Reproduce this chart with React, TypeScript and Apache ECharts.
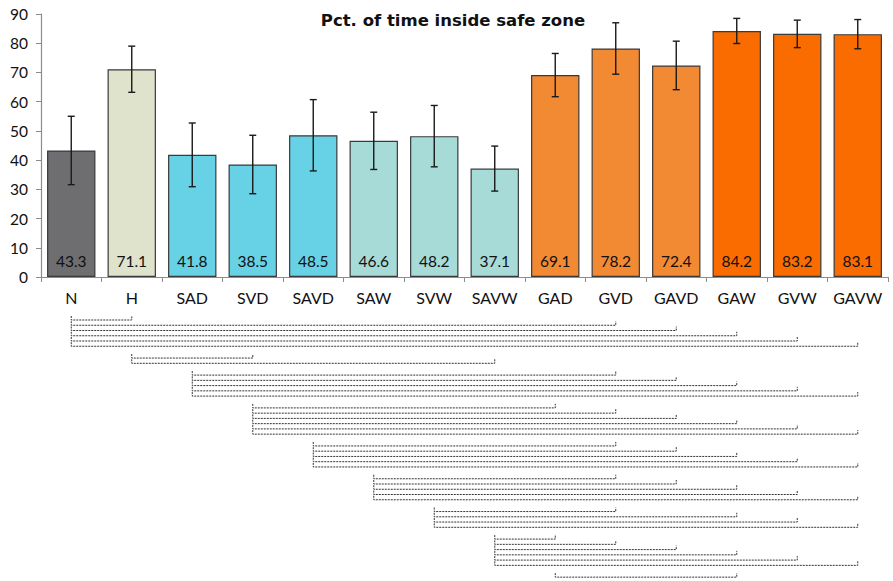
import React, { useEffect, useRef } from "react";
import * as echarts from "echarts";

// Conditions along the x axis
const categories = ["N", "H", "SAD", "SVD", "SAVD", "SAW", "SVW", "SAVW", "GAD", "GVD", "GAVD", "GAW", "GVW", "GAVW"];
// Mean percentage of time inside the safe zone
const means = [43.3, 71.1, 41.8, 38.5, 48.5, 46.6, 48.2, 37.1, 69.1, 78.2, 72.4, 84.2, 83.2, 83.1];
// Half-width of the error bar for each condition
const errors = [11.7, 7.9, 10.9, 10.0, 12.2, 9.8, 10.5, 7.7, 7.4, 8.8, 8.3, 4.3, 4.7, 5.0];
// Fill colour of each bar
const barColors = [
  "#6e6e70", "#dfe3cc",
  "#67d1e6", "#67d1e6", "#67d1e6",
  "#a7dbd8", "#a7dbd8", "#a7dbd8",
  "#f28933", "#f28933", "#f28933",
  "#fa6b00", "#fa6b00", "#fa6b00",
];
const yTicks = [0, 10, 20, 30, 40, 50, 60, 70, 80, 90];
const titleText = "Pct. of time inside safe zone";

// Pairwise comparisons shown as brackets below the axis
const comparisons: [string, string][] = [
  ["N", "H"], ["N", "GVD"], ["N", "GAVD"], ["N", "GAW"], ["N", "GVW"], ["N", "GAVW"],
  ["H", "SVD"], ["H", "SAVW"],
  ["SAD", "GVD"], ["SAD", "GAVD"], ["SAD", "GAW"], ["SAD", "GVW"], ["SAD", "GAVW"],
  ["SVD", "GAD"], ["SVD", "GVD"], ["SVD", "GAVD"], ["SVD", "GAW"], ["SVD", "GVW"], ["SVD", "GAVW"],
  ["SAVD", "GVD"], ["SAVD", "GAVD"], ["SAVD", "GAW"], ["SAVD", "GVW"], ["SAVD", "GAVW"],
  ["SAW", "GVD"], ["SAW", "GAVD"], ["SAW", "GAW"], ["SAW", "GVW"], ["SAW", "GAVW"],
  ["SVW", "GVD"], ["SVW", "GAW"], ["SVW", "GVW"], ["SVW", "GAVW"],
  ["SAVW", "GAD"], ["SAVW", "GVD"], ["SAVW", "GAVD"], ["SAVW", "GAW"], ["SAVW", "GVW"], ["SAVW", "GAVW"],
  ["GAD", "GAW"],
];

const FONT = "Lato, 'Open Sans', sans-serif";

export default function App() {
  const ref = useRef<HTMLDivElement>(null);

  useEffect(() => {
    if (!ref.current) return;
    const chart = echarts.init(ref.current, null, { renderer: "svg" });

    // vertical layout of bracket rows: rows of one starting condition stay together
    const BRACKET_TOP = 320;
    const ROW_STEP = 5.25;
    const GROUP_GAP = 11.8;
    const rowY: number[] = [];
    let y = BRACKET_TOP;
    comparisons.forEach((c, i) => {
      if (i > 0) y += c[0] === comparisons[i - 1][0] ? ROW_STEP : GROUP_GAP;
      rowY.push(y);
    });

    const bracketData = comparisons.map(([a, b]) => [categories.indexOf(a), categories.indexOf(b), 0]);
    const errorData = means.map((m, i) => [i, m - errors[i], m + errors[i]]);

    chart.setOption({
      animation: false,
      title: {
        text: titleText,
        left: 448,
        textAlign: "center",
        top: 7,
        textStyle: { fontFamily: "'DejaVu Sans', sans-serif", fontSize: 16.5, fontWeight: "bold", color: "#111" },
      },
      grid: { left: 41, right: 5, top: 14, bottom: 304, containLabel: false },
      xAxis: {
        type: "category",
        data: categories,
        axisLine: { lineStyle: { color: "#8c8c8c", width: 1.2 } },
        axisTick: { show: true, length: 5, lineStyle: { color: "#8c8c8c" } },
        axisLabel: { interval: 0, fontFamily: FONT, fontSize: 16, color: "#111", margin: 12 },
      },
      yAxis: {
        type: "value",
        min: 0,
        max: 90,
        interval: 10,
        axisLine: { show: true, lineStyle: { color: "#8c8c8c", width: 1.2 } },
        axisTick: { show: true, length: 5, lineStyle: { color: "#8c8c8c" } },
        splitLine: { show: false },
        axisLabel: {
          fontFamily: FONT,
          fontSize: 15.5,
          color: "#111",
          margin: 13,
          formatter: (v: number) => (yTicks.includes(v) ? String(v) : ""),
        },
      },
      series: [
        {
          type: "bar",
          barCategoryGap: "20%",
          data: means.map((v, i) => ({
            value: v,
            itemStyle: { color: barColors[i], borderColor: "#3a3a3a", borderWidth: 1.2 },
          })),
          label: {
            show: true,
            position: "insideBottom",
            distance: 8,
            fontFamily: FONT,
            fontSize: 15.5,
            color: "#111",
            formatter: (p: any) => p.value.toFixed(1),
          },
          z: 2,
        },
        {
          type: "custom",
          data: errorData,
          encode: { x: 0, y: [1, 2] },
          z: 3,
          renderItem: (params: any, api: any) => {
            const i = api.value(0);
            const lo = api.coord([i, api.value(1)]);
            const hi = api.coord([i, api.value(2)]);
            const cap = 3.5;
            const style = { stroke: "#1a1a1a", lineWidth: 1.4 };
            return {
              type: "group",
              children: [
                { type: "line", shape: { x1: lo[0], y1: lo[1], x2: hi[0], y2: hi[1] }, style },
                { type: "line", shape: { x1: lo[0] - cap, y1: lo[1], x2: lo[0] + cap, y2: lo[1] }, style },
                { type: "line", shape: { x1: hi[0] - cap, y1: hi[1], x2: hi[0] + cap, y2: hi[1] }, style },
              ],
            };
          },
        },
        {
          type: "custom",
          data: bracketData,
          encode: { x: [0, 1], y: 2 },
          clip: false,
          silent: true,
          renderItem: (params: any, api: any) => {
            const x1 = api.coord([api.value(0), 0])[0];
            const x2 = api.coord([api.value(1), 0])[0];
            const yy = rowY[params.dataIndex];
            const tick = 4;
            return {
              type: "polyline",
              shape: { points: [[x1, yy - tick], [x1, yy], [x2, yy], [x2, yy - tick]] },
              style: { stroke: "#333", lineWidth: 1, lineDash: [2, 1], fill: "none" },
            };
          },
        },
      ],
    });

    return () => chart.dispose();
  }, []);

  return (
    <div
      ref={ref}
      style={{ position: "absolute", left: 0, top: 0, width: 893, height: 581, background: "#fff" }}
    />
  );
}
